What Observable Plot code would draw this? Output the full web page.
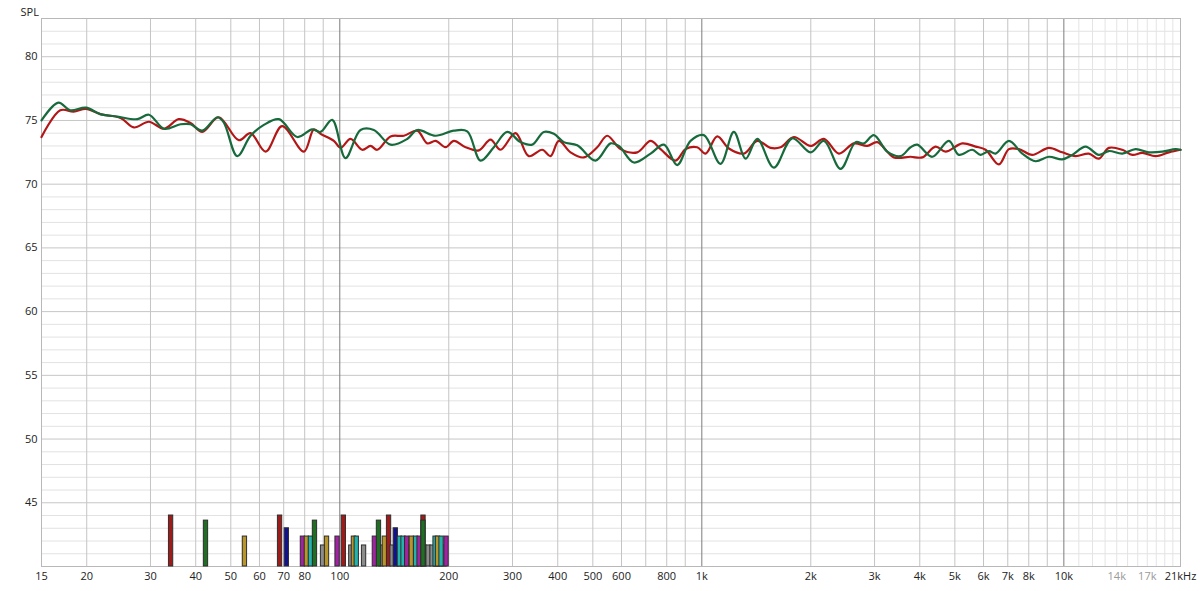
<!DOCTYPE html>
<html>
<head>
<meta charset="utf-8">
<script src="https://cdn.jsdelivr.net/npm/d3@7"></script>
<script src="https://cdn.jsdelivr.net/npm/@observablehq/plot@0.6"></script>
<style>
  html, body { margin: 0; padding: 0; background: #fff; }
  #chart svg { display: block; }
</style>
</head>
<body>
<div id="chart"></div>
<script>
// ---- Data ----
const redFreq = [15, 16.9, 18.4, 19.9, 21.8, 24.8, 27.0, 29.7, 32.7, 35.9, 38.7, 41.7, 46.3, 52.6, 56.7, 62.4, 69.3, 79.6, 84.8, 88.5, 96.3, 100.5, 107.1, 115.3, 121.6, 126.9, 138.1, 150.3, 163.7, 174.4, 183.9, 196, 206.6, 222.6, 242.2, 260.9, 277.9, 305.8, 332.8, 362.4, 382.1, 402.8, 434, 472.2, 514.2, 548, 596.4, 663.4, 721.9, 769.3, 846.2, 901.8, 971.4, 1024, 1103, 1188, 1307, 1423, 1548, 1650, 1796, 1997, 2174, 2391, 2630, 2864, 3052, 3393, 3772, 4064, 4423, 4712, 5242, 5705, 6078, 6616, 7051, 7514, 8180, 9090, 9901, 10774, 11725, 12497, 13315, 14502, 15460, 16470, 17925, 19505, 21000];
const redDb = [73.7, 75.8, 75.7, 75.9, 75.5, 75.2, 74.45, 74.9, 74.35, 75.1, 74.8, 74.1, 75.25, 73.45, 74.0, 72.55, 74.55, 72.55, 74.3, 73.95, 73.4, 72.85, 73.55, 72.7, 73.0, 72.7, 73.75, 73.8, 74.2, 73.2, 73.4, 72.9, 73.4, 72.9, 72.65, 73.5, 72.7, 74.0, 72.2, 72.7, 72.2, 73.4, 72.5, 72.1, 72.9, 73.8, 72.75, 72.5, 73.4, 72.75, 71.85, 72.75, 72.9, 72.4, 73.75, 72.8, 72.4, 73.4, 72.85, 72.9, 73.7, 73.0, 73.55, 72.4, 73.2, 73.0, 73.3, 72.1, 72.15, 72.1, 72.95, 72.55, 73.2, 72.95, 72.7, 71.55, 72.75, 72.75, 72.3, 72.85, 72.5, 72.2, 72.4, 72.0, 72.85, 72.7, 72.3, 72.45, 72.2, 72.5, 72.7];

const greenFreq = [15, 16.7, 18.0, 19.9, 21.8, 24.3, 27.6, 29.7, 32.7, 36.3, 38.7, 41.7, 45.9, 47.8, 52.1, 56.7, 61.7, 67.9, 76.3, 83.9, 88.5, 95.3, 103.7, 114.1, 124.2, 138.1, 153.6, 163.7, 183.9, 206.6, 224.9, 244.8, 266.4, 290.1, 315.7, 340.1, 366.1, 390.2, 415.8, 452.9, 508.7, 559.7, 590, 649, 722, 786, 855, 931, 1013, 1126, 1226, 1321, 1423, 1581, 1777, 1997, 2174, 2417, 2659, 2803, 2987, 3253, 3540, 3772, 3937, 4330, 4812, 5129, 5585, 5889, 6208, 6479, 7051, 7678, 8354, 9090, 9901, 10551, 11482, 12497, 13315, 14502, 15788, 17178, 18703, 20353, 21000];
const greenDb = [75.0, 76.4, 75.8, 76.0, 75.5, 75.3, 75.1, 75.45, 74.35, 74.7, 74.7, 74.2, 75.25, 74.85, 72.2, 73.8, 74.65, 75.1, 73.7, 74.3, 74.1, 75.05, 72.05, 74.25, 74.25, 73.1, 73.55, 74.25, 73.8, 74.2, 74.15, 71.85, 72.9, 74.1, 73.3, 73.1, 74.1, 73.95, 73.3, 73.05, 71.85, 73.2, 73.0, 71.7, 72.4, 73.1, 71.5, 73.4, 73.85, 71.6, 74.1, 72.0, 73.55, 71.3, 73.6, 72.5, 73.4, 71.2, 73.3, 73.2, 73.85, 72.55, 72.2, 72.9, 73.1, 72.15, 73.4, 72.3, 72.7, 72.3, 72.6, 72.4, 73.4, 72.4, 71.8, 72.15, 71.95, 72.3, 72.95, 72.3, 72.6, 72.4, 72.75, 72.5, 72.55, 72.75, 72.7];

// Filter indicator bars (frequency, top level in dB, filter group)
const barFreq = [34.2, 42.7, 54.7, 68.4, 71.4, 79.1, 81.1, 83.2, 85.4, 89.9, 92.2, 98.6, 102.6, 107.6, 109.4, 111.4, 116.7, 125.0, 130.4, 128.3, 133.2, 136.8,
  139.9, 143.5, 147.2, 151.0, 154.9, 158.9, 163.0, 167.2, 171.5, 175.9, 180.4, 185.0, 189.8, 194.7,
  142.8, 146.5, 150.0, 153.5, 158.1, 162.4, 166.1, 170.3, 170.3, 183.9, 186.8, 191.0, 197.2];
const barTop = [44.0, 43.6, 42.35, 44.0, 43.0, 42.35, 42.35, 42.35, 43.6, 41.65, 42.35, 42.35, 44.0, 41.65, 42.35, 42.35, 41.65, 42.35, 41.65, 43.6, 42.35, 44.0,
  41.65, 41.65, 41.65, 41.65, 41.65, 41.65, 41.65, 41.65, 41.65, 41.65, 41.65, 41.65, 41.65, 41.65,
  43.0, 42.35, 42.35, 42.35, 42.35, 42.35, 42.35, 44.0, 43.6, 42.35, 42.35, 42.35, 42.35];
const barGroup = ["G1", "G2", "G3", "G1", "G4", "G5", "G3", "G6", "G2", "G7", "G3", "G5", "G1", "G7", "G3", "G6", "G7", "G5", "G7", "G2", "G3", "G1",
  "G7", "G7", "G7", "G7", "G7", "G7", "G7", "G7", "G7", "G7", "G7", "G7", "G7", "G7",
  "G4", "G6", "G6", "G5", "G3", "G6", "G5", "G1", "G2", "G6", "G3", "G6", "G5"];
const groups = ["G1", "G2", "G3", "G4", "G5", "G6", "G7"];

const xTickValues = [15, 20, 30, 40, 50, 60, 70, 80, 100, 200, 300, 400, 500, 600, 800, 1000, 2000, 3000, 4000, 5000, 6000, 7000, 8000, 10000, 14000, 17000, 21000];
const xTickLabels = ["15", "20", "30", "40", "50", "60", "70", "80", "100", "200", "300", "400", "500", "600", "800", "1k", "2k", "3k", "4k", "5k", "6k", "7k", "8k", "10k", "14k", "17k", "21kHz"];
const xTickFaint = ["14k", "17k"];
const yTickValues = [45, 50, 55, 60, 65, 70, 75, 80];

// ---- Grid definitions ----
const xGrid = [20, 30, 40, 50, 60, 70, 80, 90, 200, 300, 400, 500, 600, 700, 800, 900, 2000, 3000, 4000, 5000, 6000, 7000, 8000, 9000];
const xDecade = [100, 1000, 10000];
const xFine = [11000, 12000, 13000, 14000, 15000, 16000, 17000, 18000, 19000, 20000];
const yMinor = d3.range(41, 83).filter(d => d % 5 !== 0);

const red = redFreq.map((f, i) => ({f, db: redDb[i]}));
const green = greenFreq.map((f, i) => ({f, db: greenDb[i]}));
const bars = barFreq.map((f, i) => ({f, top: barTop[i], g: barGroup[i]}));
const xTicks = xTickValues.map((v, i) => ({v, label: xTickLabels[i]}));

const halfW = Math.pow(10, 2.15 / 362); // ~4.3px wide bars on the log axis

const chart = Plot.plot({
  width: 1200,
  height: 591,
  marginLeft: 41,
  marginRight: 20,
  marginTop: 18,
  marginBottom: 25,
  style: {fontFamily: "'Open Sans', 'Noto Sans', sans-serif", fontSize: "11px", background: "#fff", color: "#222"},
  x: {type: "log", domain: [15, 21000], axis: null},
  y: {domain: [40, 83], axis: null},
  color: {
    type: "ordinal",
    domain: groups,
    range: ["#a01a1a", "#1e6e24", "#b8962a", "#12128f", "#a321a3", "#22b3ad", "#8c8c8c"]
  },
  marks: [
    Plot.ruleY(yMinor, {stroke: "#e2e2e2", strokeWidth: 1}),
    Plot.ruleX(xFine, {stroke: "#e4e4e4", strokeWidth: 1}),
    Plot.ruleY(yTickValues, {stroke: "#c6c6c6", strokeWidth: 1}),
    Plot.ruleX(xGrid, {stroke: "#c4c4c4", strokeWidth: 1}),
    Plot.ruleX(xDecade, {stroke: "#7c7c7c", strokeWidth: 1}),
    Plot.frame({stroke: "#b8b8b8"}),
    Plot.rect(bars, {
      x1: d => d.f / halfW,
      x2: d => d.f * halfW,
      y1: 40,
      y2: "top",
      fill: "g",
      stroke: "#2e2e2e",
      strokeWidth: 1
    }),
    Plot.line(red, {x: "f", y: "db", stroke: "#b31616", strokeWidth: 2.2, curve: "catmull-rom"}),
    Plot.line(green, {x: "f", y: "db", stroke: "#176a3c", strokeWidth: 2.2, curve: "catmull-rom"}),
    Plot.text(xTicks, {
      x: "v", text: "label", frameAnchor: "bottom", dy: 13,
      fill: d => xTickFaint.includes(d.label) ? "#9a9a9a" : "#222"
    }),
    Plot.text(yTickValues, {y: d => d, text: d => String(d), frameAnchor: "left", dx: -4, textAnchor: "end", fill: "#222"}),
    Plot.text(["SPL"], {frameAnchor: "top-left", dx: -21, dy: -10, textAnchor: "start", fill: "#222"})
  ]
});

document.getElementById("chart").appendChild(chart);
</script>
</body>
</html>
